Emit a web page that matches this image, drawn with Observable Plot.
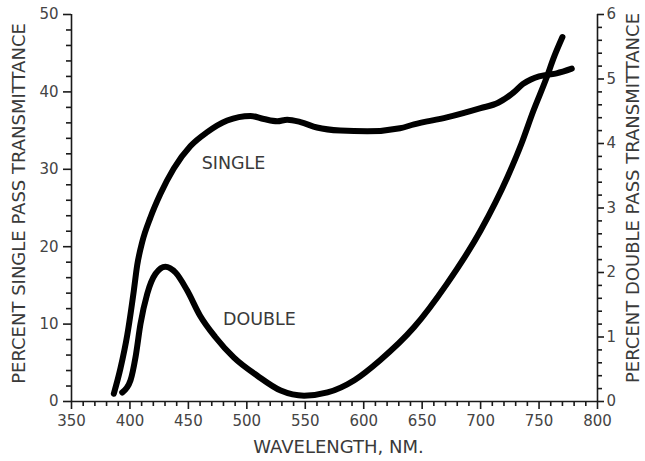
<!DOCTYPE html>
<html><head><meta charset="utf-8">
<script src="https://cdn.jsdelivr.net/npm/d3@7"></script>
<script src="https://cdn.jsdelivr.net/npm/@observablehq/plot@0.6"></script>
<style>
html,body{margin:0;padding:0;background:#fff;}
#chart{width:645px;height:461px;}
</style></head>
<body><div id="chart"></div>
<script>
// Single pass transmittance (%), left axis
const singleWl  = [386.2, 391.9, 397.7, 403.3, 406.2, 410.5, 417.6, 426, 437.5, 451.8, 466.1, 483.2, 503.1, 514.5, 526, 534.5, 545.9, 560, 580, 603, 631, 643, 671, 700, 715, 728, 736, 743, 750, 757, 765, 778];
const singleVal = [1.0, 4.3, 8.6, 14.3, 17.6, 20.6, 23.8, 26.8, 30.1, 33.0, 34.8, 36.3, 36.9, 36.5, 36.2, 36.4, 36.1, 35.4, 35.0, 34.9, 35.3, 35.8, 36.7, 37.9, 38.6, 39.9, 41.0, 41.6, 42.0, 42.2, 42.4, 43.0];
// Double pass transmittance (%), right axis
const doubleWl  = [393.4, 400.5, 404.8, 409, 414.8, 421.9, 430.4, 439, 449, 460, 473, 489, 509, 529, 549, 569, 592, 614, 643, 671, 700, 723, 735, 745, 756, 763, 770];
const doubleVal = [0.14, 0.33, 0.69, 1.20, 1.67, 1.98, 2.09, 2.0, 1.72, 1.33, 1.0, 0.68, 0.40, 0.17, 0.09, 0.14, 0.33, 0.64, 1.15, 1.82, 2.65, 3.48, 4.0, 4.5, 5.0, 5.35, 5.65];
const xTicks = [350, 400, 450, 500, 550, 600, 650, 700, 750, 800];
const leftTicks = [0, 10, 20, 30, 40, 50];
const rightTicks = [0, 1, 2, 3, 4, 5, 6];
// minor tick positions
const xMinor = [360, 370, 380, 390, 410, 420, 430, 440, 460, 470, 480, 490, 510, 520, 530, 540, 560, 570, 580, 590, 610, 620, 630, 640, 660, 670, 680, 690, 710, 720, 730, 740, 760, 770, 780, 790];
const yMinor = [2, 4, 6, 8, 12, 14, 16, 18, 22, 24, 26, 28, 32, 34, 36, 38, 42, 44, 46, 48];
const rMinor = [0.2, 0.4, 0.6, 0.8, 1.2, 1.4, 1.6, 1.8, 2.2, 2.4, 2.6, 2.8, 3.2, 3.4, 3.6, 3.8, 4.2, 4.4, 4.6, 4.8, 5.2, 5.4, 5.6, 5.8];

const singleData = singleWl.map((w, i) => ({w, v: singleVal[i]}));
const doubleData = doubleWl.map((w, i) => ({w, v: doubleVal[i] * 50 / 6}));

const font = "DejaVu Sans, Verdana, sans-serif";
const axisColor = "#1a1a1a";
const textColor = "#3a3a3a";
const W = 645, H = 461, ML = 71, MR = 48, MT = 14, MB = 60;
const xDom = [350, 800], yDom = [0, 50];
// tick lengths expressed in scale units (pixel length / pixels per unit)
const nmPerPx = (xDom[1] - xDom[0]) / (W - ML - MR);
const pctPerPx = (yDom[1] - yDom[0]) / (H - MT - MB);
const majorLen = 8, minorLen = 5;
const tickOpts = {stroke: axisColor, strokeWidth: 1.6};

const chart = Plot.plot({
  width: W, height: H,
  marginLeft: ML, marginRight: MR, marginTop: MT, marginBottom: MB,
  style: {fontFamily: font, fontSize: "15px", color: "#444", background: "#fff"},
  x: {domain: xDom},
  y: {domain: yDom},
  marks: [
    // axis lines
    Plot.ruleY([0], {stroke: axisColor, strokeWidth: 1.6}),
    Plot.ruleX([350], {stroke: axisColor, strokeWidth: 1.6}),
    Plot.ruleX([800], {stroke: axisColor, strokeWidth: 1.6}),
    // bottom ticks
    Plot.ruleX(xTicks, {x: d => d, y1: 0, y2: -majorLen * pctPerPx, ...tickOpts}),
    Plot.ruleX(xMinor, {x: d => d, y1: 0, y2: -minorLen * pctPerPx, ...tickOpts}),
    // left ticks
    Plot.ruleY(leftTicks, {y: d => d, x1: 350, x2: 350 - majorLen * nmPerPx, ...tickOpts}),
    Plot.ruleY(yMinor, {y: d => d, x1: 350, x2: 350 - minorLen * nmPerPx, ...tickOpts}),
    // right ticks (0–6 scale mapped onto 0–50)
    Plot.ruleY(rightTicks, {y: d => d * 50 / 6, x1: 800, x2: 800 + 7 * nmPerPx, ...tickOpts}),
    Plot.ruleY(rMinor, {y: d => d * 50 / 6, x1: 800, x2: 800 + minorLen * nmPerPx, ...tickOpts}),
    // tick labels
    Plot.axisX({ticks: xTicks, tickSize: 0, tickPadding: 14, label: null, fill: "#444"}),
    Plot.axisY({ticks: leftTicks, tickSize: 0, tickPadding: 13, label: null, fill: "#444"}),
    Plot.axisY({anchor: "right", ticks: rightTicks.map(t => t * 50 / 6), tickFormat: (d) => String(Math.round(d * 6 / 50)), tickSize: 0, tickPadding: 9, label: null, fill: "#444"}),
    // curves
    Plot.line(singleData, {x: "w", y: "v", curve: "monotone-x", stroke: "#000", strokeWidth: 6, strokeLinecap: "round", strokeLinejoin: "round"}),
    Plot.line(doubleData, {x: "w", y: "v", curve: "monotone-x", stroke: "#000", strokeWidth: 6, strokeLinecap: "round", strokeLinejoin: "round"}),
    // in-plot labels
    Plot.text(["SINGLE"], {x: 488.6, y: 30.8, text: d => d, fontSize: 17.5, fill: textColor, fontFamily: font}),
    Plot.text(["DOUBLE"], {x: 510.8, y: 10.6, text: d => d, fontSize: 17.5, fill: textColor, fontFamily: font}),
    // axis titles
    Plot.text(["WAVELENGTH, NM."], {frameAnchor: "bottom", text: d => d, textAnchor: "middle", lineAnchor: "middle", dx: 4, dy: 46, fontSize: 18, fill: textColor, fontFamily: font}),
    Plot.text(["PERCENT SINGLE PASS TRANSMITTANCE"], {frameAnchor: "left", text: d => d, textAnchor: "middle", lineAnchor: "middle", rotate: -90, dx: -52, dy: -4.5, fontSize: 18, fill: textColor, fontFamily: font}),
    Plot.text(["PERCENT DOUBLE PASS TRANSMITTANCE"], {frameAnchor: "right", text: d => d, textAnchor: "middle", lineAnchor: "middle", rotate: -90, dx: 36, dy: -10, fontSize: 18, fill: textColor, fontFamily: font})
  ]
});
document.getElementById("chart").appendChild(chart);
</script>
</body></html>
